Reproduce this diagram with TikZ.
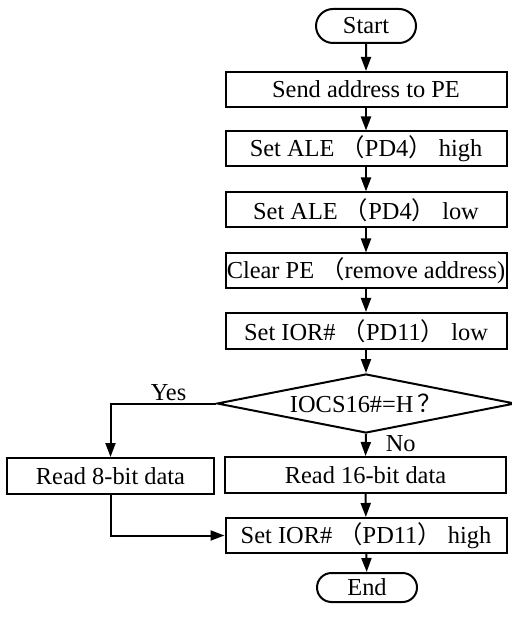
\documentclass[tikz,border=0pt]{standalone}
\usepackage{fontspec}
\setmainfont{Liberation Serif}
\newfontfamily\cjk{Noto Sans CJK SC}
\usetikzlibrary{arrows.meta, positioning, shapes.geometric, shapes.misc}
\newcommand{\flp}{{\cjk （}}
\newcommand{\frp}{{\cjk ）}}
\newcommand{\fqm}{{\cjk ？}}

\begin{document}
\begin{tikzpicture}[
    x=0.5pt, y=-0.5pt,
    every node/.style={font=\fontsize{12.2}{14}\selectfont},
    proc/.style={draw, line width=1pt, inner sep=0pt, minimum width=140.5pt, minimum height=17.5pt},
    term/.style={draw, rounded rectangle, line width=1pt, inner sep=0pt, minimum width=50pt, minimum height=17pt},
    cond/.style={draw, diamond, aspect=5, line width=1pt, inner sep=0pt, minimum width=149pt, minimum height=29.5pt},
    flow/.style={line width=1pt, -{Triangle[length=7pt, width=5pt]}},
    lbl/.style={inner sep=1pt}
]
\useasboundingbox (0,0) rectangle (511,619);
% Main column
\node[term] (start) at (366,26) {Start};
\node[proc] (send) at (366,89.5) {Send address to PE};
\node[proc] (aleh) at (366,149) {Set ALE \flp PD4\frp\ high};
\node[proc] (alel) at (366,210) {Set ALE \flp PD4\frp\ low};
\node[proc] (clr) at (366,271) {Clear PE \flp remove address)};
\node[proc, minimum height=18pt] (iorl) at (366,331) {Set IOR\# \flp PD11\frp\ low};
\node[cond] (dec) at (366,403.5) {IOCS16\#=H\,\fqm};
% Read branches
\node[proc, minimum width=103.5pt, minimum height=18pt] (rd8) at (110.5,476) {Read 8-bit data};
\node[proc, minimum height=18pt] (rd16) at (365.5,475) {Read 16-bit data};
\node[proc] (iorh) at (366,535.5) {Set IOR\# \flp PD11\frp\ high};
\node[term, minimum height=14.5pt] (end) at (367,587.5) {End};

\draw[flow] (start) -- (send);
\draw[flow] (send) -- (aleh);
\draw[flow] (aleh) -- (alel);
\draw[flow] (alel) -- (clr);
\draw[flow] (clr) -- (iorl);
\draw[flow] (iorl) -- (dec);
% Yes / No
\draw[flow] (dec.west) -- node[lbl, above, pos=0.45] {Yes} (rd8.north |- dec.west) -- (rd8.north);
\draw[flow] (dec.south) -- node[lbl, right, pos=0.42, xshift=8.5pt] {No} (rd16.north);
\draw[flow] (rd16) -- (iorh);
\draw[flow] (rd8.south) |- (iorh.west);
\draw[flow] (iorh) -- (end);
\end{tikzpicture}
\end{document}
